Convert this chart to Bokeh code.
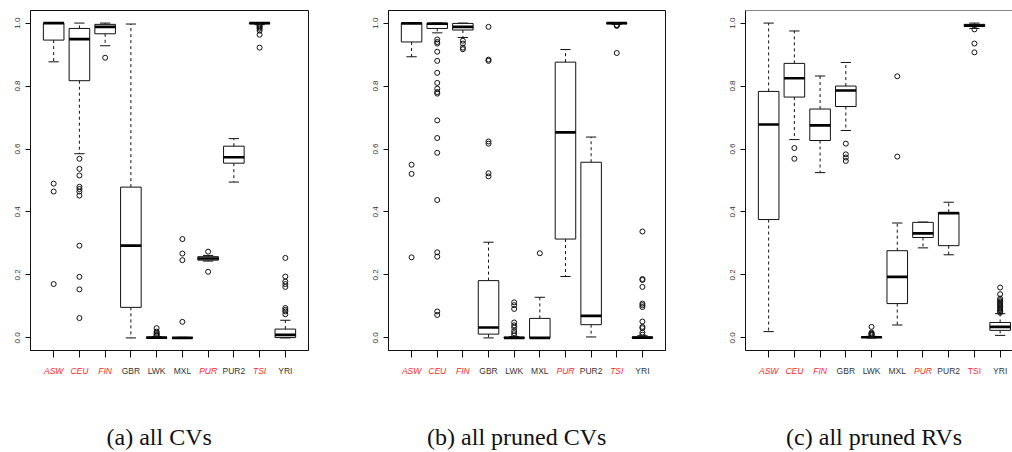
from bokeh.plotting import figure
from bokeh.layouts import row, column
from bokeh.models import (ColumnDataSource, FixedTicker, Span, Range1d,
                          NumeralTickFormatter)
from bokeh.core.properties import value
from bokeh.embed import file_html
from bokeh.resources import INLINE

groups = ["ASW", "CEU", "FIN", "GBR", "LWK", "MXL", "PUR", "PUR2", "TSI", "YRI"]
highlighted = ["ASW", "CEU", "FIN", "PUR", "TSI"]
y_ticks = [0.0, 0.2, 0.4, 0.6, 0.8, 1.0]

# ---- (a) all CVs ----
a_lo = [0.877, 0.585, 0.928, 0.000, 0.000, 0.000, 0.244, 0.495, 0.995, 0.000]
a_q1 = [0.946, 0.817, 0.966, 0.097, 0.000, 0.000, 0.247, 0.555, 0.998, 0.001]
a_med = [1.000, 0.949, 0.988, 0.293, 0.001, 0.000, 0.252, 0.574, 1.000, 0.0095]
a_q3 = [1.000, 0.983, 0.996, 0.479, 0.002, 0.001, 0.258, 0.609, 1.000, 0.028]
a_hi = [1.000, 1.000, 1.000, 0.997, 0.004, 0.002, 0.262, 0.633, 1.000, 0.056]
a_out = [
    [0.490, 0.465, 0.171],
    [0.569, 0.537, 0.516, 0.480, 0.473, 0.465, 0.452, 0.293, 0.194, 0.154, 0.063],
    [0.890],
    [],
    [0.031, 0.020, 0.016, 0.012, 0.009, 0.007],
    [0.314, 0.268, 0.247, 0.051],
    [0.274, 0.210],
    [],
    [0.993, 0.990, 0.986, 0.982, 0.976, 0.963, 0.922],
    [0.254, 0.195, 0.179, 0.171, 0.162, 0.095, 0.089, 0.084, 0.075],
]

# ---- (b) all pruned CVs ----
b_lo = [0.893, 0.969, 0.954, 0.000, 0.000, 0.000, 0.195, 0.003, 0.996, 0.000]
b_q1 = [0.940, 0.983, 0.978, 0.012, 0.000, 0.000, 0.314, 0.042, 0.998, 0.000]
b_med = [0.999, 0.998, 0.988, 0.033, 0.000, 0.000, 0.653, 0.070, 1.000, 0.001]
b_q3 = [1.000, 1.000, 0.999, 0.182, 0.002, 0.062, 0.876, 0.558, 1.000, 0.003]
b_hi = [1.000, 1.000, 1.000, 0.304, 0.004, 0.129, 0.916, 0.638, 1.000, 0.007]
b_out = [
    [0.550, 0.521, 0.256],
    [0.948, 0.940, 0.935, 0.909, 0.880, 0.842, 0.810, 0.792, 0.781, 0.776,
     0.691, 0.635, 0.588, 0.438, 0.272, 0.258, 0.084, 0.073],
    [0.944, 0.935, 0.922, 0.917],
    [0.988, 0.884, 0.880, 0.624, 0.617, 0.523, 0.513],
    [0.113, 0.104, 0.092, 0.049, 0.040, 0.033, 0.022, 0.015, 0.008],
    [0.269],
    [],
    [],
    [0.994, 0.993, 0.991, 0.905],
    [0.338, 0.187, 0.184, 0.162, 0.109, 0.104, 0.098, 0.052, 0.035, 0.031, 0.017, 0.010],
]

# ---- (c) all pruned RVs ----
c_lo = [0.020, 0.630, 0.525, 0.659, 0.000, 0.041, 0.286, 0.264, 0.983, 0.008]
c_q1 = [0.376, 0.765, 0.627, 0.735, 0.001, 0.109, 0.319, 0.293, 0.990, 0.024]
c_med = [0.678, 0.825, 0.675, 0.786, 0.002, 0.194, 0.332, 0.396, 0.992, 0.035]
c_q3 = [0.783, 0.872, 0.727, 0.800, 0.003, 0.277, 0.367, 0.399, 0.996, 0.049]
c_hi = [1.000, 0.975, 0.832, 0.875, 0.005, 0.365, 0.368, 0.431, 1.000, 0.077]
c_out = [
    [],
    [0.603, 0.569],
    [],
    [0.617, 0.583, 0.573, 0.562],
    [0.035, 0.017, 0.014, 0.012, 0.010, 0.008],
    [0.831, 0.576],
    [],
    [],
    [0.980, 0.935, 0.907],
    [0.160, 0.139, 0.125, 0.120, 0.116, 0.112, 0.108, 0.104, 0.100, 0.096,
     0.092, 0.088, 0.084, 0.080],
]

RED = "#ff2a2a"
DARK = "#333333"
LINE = "#111111"


def panel(lo, q1, med, q3, hi, out, caption, width, border_left, border_right,
          x_end, italic_tsi=True, clipped=False):
    xs = list(range(1, len(groups) + 1))
    xr = Range1d(0.1, x_end)
    p = figure(width=width, height=360, output_backend="svg", toolbar_location=None,
               x_range=xr, y_range=Range1d(-0.04, 1.04),
               min_border_left=border_left, min_border_right=border_right,
               min_border_top=10, min_border_bottom=10)
    p.xgrid.visible = False
    p.ygrid.visible = False
    if clipped:
        p.outline_line_color = None
        p.add_layout(Span(location=1.04, dimension="width", line_color=LINE,
                          line_width=1))
    else:
        p.outline_line_color = LINE
        p.outline_line_width = 1

    src = ColumnDataSource(dict(x=xs, lo=lo, q1=q1, med=med, q3=q3, hi=hi,
                                l=[x - 0.4 for x in xs], r=[x + 0.4 for x in xs],
                                cl=[x - 0.2 for x in xs], cr=[x + 0.2 for x in xs]))
    p.segment(x0="x", y0="q3", x1="x", y1="hi", source=src, line_color=LINE,
              line_width=1, line_dash="3 3")
    p.segment(x0="x", y0="q1", x1="x", y1="lo", source=src, line_color=LINE,
              line_width=1, line_dash="3 3")
    p.segment(x0="cl", y0="hi", x1="cr", y1="hi", source=src, line_color=LINE,
              line_width=1)
    p.segment(x0="cl", y0="lo", x1="cr", y1="lo", source=src, line_color=LINE,
              line_width=1)
    p.quad(left="l", right="r", bottom="q1", top="q3", source=src,
           fill_color="white", line_color=LINE, line_width=1)
    p.segment(x0="l", y0="med", x1="r", y1="med", source=src, line_color="#000000",
              line_width=2.6)

    ox, oy = [], []
    for x, vals in zip(xs, out):
        for v in vals:
            ox.append(x)
            oy.append(v)
    p.scatter(ox, oy, marker="circle", size=5, fill_color=None,
              line_color=LINE, line_width=1)

    p.xaxis.ticker = FixedTicker(ticks=xs)
    p.xaxis.major_label_overrides = {x: "" for x in xs}
    p.xaxis.major_label_standoff = 0
    p.xaxis.major_tick_out = 7
    p.xaxis.major_tick_in = 0
    p.xaxis.minor_tick_line_color = None
    p.xaxis.axis_line_color = LINE
    p.xaxis.major_tick_line_color = LINE

    p.yaxis.ticker = FixedTicker(ticks=y_ticks)
    p.yaxis.formatter = NumeralTickFormatter(format="0.0")
    p.yaxis.major_label_orientation = "vertical"
    p.yaxis.major_label_text_font = "Liberation Sans"
    p.yaxis.major_label_text_font_size = "8px"
    p.yaxis.major_label_text_color = DARK
    p.yaxis.major_tick_out = 5
    p.yaxis.major_tick_in = 0
    p.yaxis.major_label_standoff = 5
    p.yaxis.minor_tick_line_color = None
    p.yaxis.axis_line_color = LINE
    p.yaxis.major_tick_line_color = LINE

    # label strip below: group names and caption, sharing the x scale
    q = figure(width=width, height=92, output_backend="svg", toolbar_location=None,
               x_range=xr, y_range=Range1d(0, 92), x_axis_type=None,
               y_axis_type=None, min_border_left=border_left,
               min_border_right=border_right, min_border_top=0, min_border_bottom=0)
    q.outline_line_color = None
    q.xgrid.visible = False
    q.ygrid.visible = False
    colors = [RED if g in highlighted else DARK for g in groups]
    styles = ["italic" if (g in highlighted and (g != "TSI" or italic_tsi)) else "normal"
              for g in groups]
    lsrc = ColumnDataSource(dict(x=xs, y=[82] * len(xs), text=groups,
                                 color=colors, style=styles))
    q.text(x="x", y="y", text="text", source=lsrc, text_color="color",
           text_font_style="style", text_font=value("Liberation Sans"),
           text_font_size=value("8.5px"), text_align="center",
           text_baseline="middle")
    q.text(x=[5.1], y=[16], text=[caption], text_font=value("Liberation Serif"),
           text_font_size=value("24px"), text_color="#111111",
           text_align="center", text_baseline="middle")
    return column(p, q, spacing=0)


pa = panel(a_lo, a_q1, a_med, a_q3, a_hi, a_out, "(a) all CVs",
           340, 30, 32, 10.9)
pb = panel(b_lo, b_q1, b_med, b_q3, b_hi, b_out, "(b) all pruned CVs",
           340, 48, 15, 10.9)
pc = panel(c_lo, c_q1, c_med, c_q3, c_hi, c_out, "(c) all pruned RVs",
           332, 65, 0, 10.48, italic_tsi=False, clipped=True)

layout = row(pa, pb, pc, spacing=0)
open("out.html", "w").write(file_html(layout, INLINE))
